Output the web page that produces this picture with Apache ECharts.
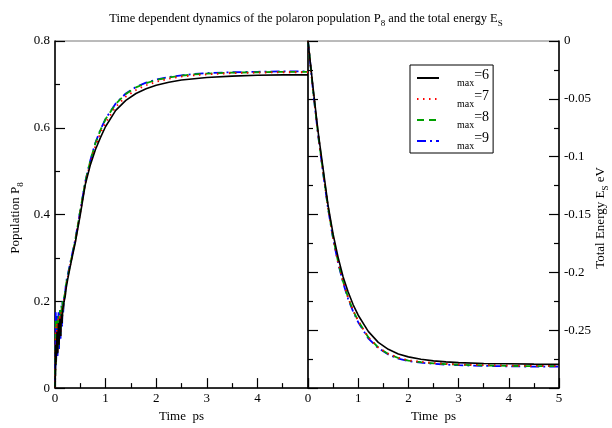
<!DOCTYPE html>
<html><head><meta charset="utf-8">
<script src="https://cdn.jsdelivr.net/npm/echarts@6/dist/echarts.min.js"></script>
<style>html,body{margin:0;padding:0;background:#fff}#c{width:612px;height:428px}</style>
</head><body><div id="c"></div>
<script>
// ---- Left panel: population P8 vs time (ps)
const tLeft = [0, 0.005, 0.01, 0.015, 0.02, 0.03, 0.04, 0.05, 0.06, 0.07, 0.08, 0.09, 0.1, 0.11, 0.12, 0.13, 0.14, 0.15, 0.16, 0.18, 0.2, 0.22, 0.25, 0.3,
  0.4, 0.5, 0.6, 0.7, 0.8, 0.9, 1.0, 1.2, 1.4, 1.6, 1.8, 2.0, 2.25, 2.5, 2.75, 3.0, 3.5, 4.0, 4.5, 5.0];
const pop6 = [0, 0.02, 0.04, 0.10, 0.06, 0.09, 0.13, 0.08, 0.12, 0.15, 0.10, 0.14, 0.16, 0.12, 0.15, 0.17, 0.15, 0.18, 0.18, 0.20, 0.21, 0.23, 0.25, 0.28,
  0.335, 0.40, 0.47, 0.515, 0.55, 0.578, 0.603, 0.64, 0.663, 0.679, 0.69, 0.698, 0.705, 0.71, 0.713, 0.716, 0.719, 0.721, 0.722, 0.722];
const pop7 = [0, 0.03, 0.05, 0.14, 0.06, 0.10, 0.15, 0.08, 0.12, 0.16, 0.10, 0.15, 0.17, 0.12, 0.16, 0.18, 0.15, 0.19, 0.18, 0.21, 0.215, 0.235, 0.255, 0.283,
  0.338, 0.405, 0.473, 0.52, 0.558, 0.588, 0.612, 0.648, 0.672, 0.687, 0.698, 0.706, 0.713, 0.718, 0.721, 0.723, 0.726, 0.727, 0.728, 0.728];
const pop8 = [0, 0.03, 0.06, 0.16, 0.05, 0.11, 0.16, 0.08, 0.13, 0.17, 0.10, 0.15, 0.18, 0.12, 0.17, 0.19, 0.15, 0.20, 0.18, 0.21, 0.22, 0.24, 0.256, 0.285,
  0.34, 0.41, 0.476, 0.525, 0.565, 0.595, 0.62, 0.655, 0.678, 0.693, 0.703, 0.71, 0.716, 0.72, 0.723, 0.725, 0.727, 0.728, 0.729, 0.729];
const pop9 = [0, 0.04, 0.07, 0.175, 0.05, 0.10, 0.17, 0.07, 0.13, 0.175, 0.09, 0.15, 0.18, 0.11, 0.17, 0.19, 0.14, 0.20, 0.17, 0.21, 0.22, 0.245, 0.26, 0.288,
  0.342, 0.41, 0.477, 0.526, 0.566, 0.596, 0.621, 0.656, 0.679, 0.694, 0.704, 0.711, 0.717, 0.721, 0.724, 0.726, 0.728, 0.729, 0.73, 0.73];

// ---- Right panel: total energy E_S (eV) vs time (ps)
const tRight = [0, 0.05, 0.1, 0.2, 0.3, 0.4, 0.5, 0.6, 0.7, 0.8, 0.9, 1.0, 1.2, 1.4, 1.6, 1.8, 2.0, 2.25, 2.5, 2.75, 3.0, 3.5, 4.0, 4.5, 5.0];
const en6 = [0, -0.02, -0.04, -0.078, -0.11, -0.142, -0.167, -0.187, -0.204, -0.217, -0.228, -0.237, -0.251, -0.2605, -0.2665, -0.2705, -0.273, -0.275, -0.2765, -0.2773, -0.278, -0.2787, -0.279, -0.2793, -0.2795];
const en7 = [0, -0.021, -0.042, -0.08, -0.113, -0.144, -0.17, -0.191, -0.208, -0.222, -0.233, -0.242, -0.256, -0.265, -0.2703, -0.2738, -0.276, -0.2773, -0.2783, -0.279, -0.2795, -0.2801, -0.2805, -0.2807, -0.2808];
const en8 = [0, -0.021, -0.042, -0.08, -0.113, -0.144, -0.17, -0.191, -0.208, -0.222, -0.233, -0.242, -0.256, -0.265, -0.2705, -0.274, -0.2762, -0.2776, -0.2786, -0.2793, -0.2798, -0.2804, -0.2808, -0.281, -0.2811];
const en9 = [0, -0.021, -0.043, -0.081, -0.114, -0.145, -0.171, -0.192, -0.209, -0.223, -0.234, -0.243, -0.257, -0.2655, -0.271, -0.2745, -0.2767, -0.278, -0.279, -0.2797, -0.2802, -0.2808, -0.2812, -0.2814, -0.2815];

const seriesNames = ['max=6', 'max=7', 'max=8', 'max=9'];

const FONT = 'Liberation Serif, Times New Roman, serif';
const colors = ['#000000', '#ff0000', '#00a000', '#0000ff'];
const lineStyles = [
  {width: 1.6, type: 'solid'},
  {width: 1.8, type: [1.5, 4.5]},
  {width: 1.8, type: [7, 5]},
  {width: 1.8, type: [9, 4, 2, 4]}
];

function pairs(t, v) { return t.map((x, i) => [x, v[i]]); }
const popData = [pop6, pop7, pop8, pop9];
const enData = [en6, en7, en8, en9];

const lab = {fontFamily: FONT, fontSize: 13, color: '#000'};
const richBase = {
  n: {fontFamily: FONT, fontSize: 13, fontWeight: 'normal', color: '#000', lineHeight: 18},
  s: {fontFamily: FONT, fontSize: 9, fontWeight: 'normal', color: '#000', lineHeight: 9, verticalAlign: 'bottom'}
};
const richTitle = {
  n: {fontFamily: FONT, fontSize: 12.5, fontWeight: 'normal', color: '#000', lineHeight: 18},
  s: {fontFamily: FONT, fontSize: 9, fontWeight: 'normal', color: '#000', lineHeight: 9, verticalAlign: 'bottom'}
};
const tickStyle = {color: '#000', width: 1.2};

function xAxisCfg(gi, hideMax) {
  return {
    gridIndex: gi, type: 'value', min: 0, max: 5, interval: 1,
    axisLine: {onZero: false, lineStyle: {color: '#000', width: 1.5}},
    axisTick: {inside: true, length: 10, lineStyle: tickStyle},
    minorTick: {show: true, splitNumber: 2, length: 5, lineStyle: tickStyle},
    splitLine: {show: false},
    axisLabel: Object.assign({margin: 4, showMaxLabel: !hideMax, showMinLabel: true}, lab),
    name: 'Time  ps', nameLocation: 'middle', nameGap: 17,
    nameTextStyle: {fontFamily: FONT, fontSize: 13, color: '#000'}
  };
}
function yAxisCfg(gi, pos, min, max, interval, showLabels, hideMin) {
  return {
    gridIndex: gi, type: 'value', position: pos, min: min, max: max, interval: interval,
    axisLine: {show: true, onZero: false, lineStyle: {color: '#000', width: 1.5}},
    axisTick: {inside: true, length: 10, lineStyle: tickStyle},
    minorTick: {show: true, splitNumber: 2, length: 5, lineStyle: tickStyle},
    splitLine: {show: false},
    axisLabel: Object.assign({show: showLabels, margin: 5, showMinLabel: !hideMin}, lab)
  };
}

const series = [];
for (let i = 0; i < 4; i++) {
  series.push({
    name: seriesNames[i], type: 'line', xAxisIndex: 0, yAxisIndex: 0,
    data: pairs(tLeft, popData[i]), symbol: 'none', smooth: false,
    lineStyle: Object.assign({color: colors[i]}, lineStyles[i]),
    itemStyle: {color: colors[i]}, z: 10 - i
  });
}
for (let i = 0; i < 4; i++) {
  series.push({
    name: seriesNames[i], type: 'line', xAxisIndex: 1, yAxisIndex: 1,
    data: pairs(tRight, enData[i]), symbol: 'none', smooth: false,
    lineStyle: Object.assign({color: colors[i]}, lineStyles[i]),
    itemStyle: {color: colors[i]}, z: 10 - i
  });
}

const chart = echarts.init(document.getElementById('c'), null, {renderer: 'canvas'});
chart.setOption({
  animation: false,
  backgroundColor: '#fff',
  title: {
    text: '{n|Time dependent dynamics of the polaron population P}{s|8}{n| and the total energy E}{s|S}',
    left: 'center', top: 5,
    textStyle: {fontWeight: 'normal', rich: richTitle}
  },
  grid: [
    {left: 55, top: 41, width: 253, height: 355, show: true, borderColor: '#777', borderWidth: 1},
    {left: 308, top: 41, width: 251, height: 355, show: true, borderColor: '#777', borderWidth: 1}
  ],
  xAxis: [xAxisCfg(0, true), xAxisCfg(1, false)],
  yAxis: [
    yAxisCfg(0, 'left', 0, 0.8, 0.2, true, false),
    yAxisCfg(1, 'right', -0.3, 0, 0.05, true, true),
    yAxisCfg(1, 'left', -0.3, 0, 0.05, false, true)
  ],
  legend: {
    data: seriesNames, orient: 'vertical', left: 410, top: 65,
    padding: [3, 4, 2, 6], itemWidth: 22, itemHeight: 14, itemGap: 1,
    borderColor: '#000', borderWidth: 1, backgroundColor: '#fff',
    selectedMode: false,
    itemStyle: {opacity: 0},
    formatter: function (name) {
      return '{b| }{s|max}{e|' + name.slice(3) + '}';
    },
    textStyle: {
      rich: {
        b: {width: 13, fontSize: 13, lineHeight: 20},
        s: {fontFamily: FONT, fontSize: 10, color: '#000', lineHeight: 10, verticalAlign: 'bottom'},
        e: {fontFamily: FONT, fontSize: 14, color: '#000', lineHeight: 14, verticalAlign: 'top'}
      }
    }
  },
  graphic: [
    {type: 'text', x: 16, y: 218, rotation: Math.PI / 2,
      style: {text: '{n|Population P}{s|8}', rich: richBase, align: 'center', verticalAlign: 'middle'}},
    {type: 'text', x: 601, y: 218, rotation: Math.PI / 2,
      style: {text: '{n|Total Energy E}{s|S}{n| eV}', rich: richBase, align: 'center', verticalAlign: 'middle'}}
  ],
  series: series
});
</script>
</body></html>
